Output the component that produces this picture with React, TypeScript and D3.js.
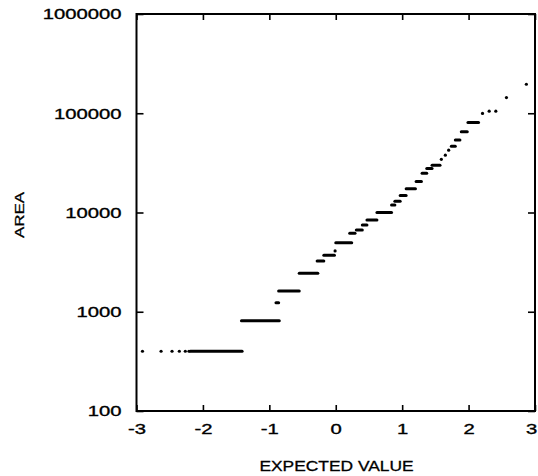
import React, { useRef, useEffect } from 'react';
import * as d3 from 'd3';

// runs of tied values in the normal probability plot: start, end (expected value), area
const runStart = [-2.91, -2.63, -2.465, -2.355, -2.265, -2.21, -2.19, -1.42, -0.9, -0.86, -0.55, -0.28, -0.18, -0.01, 0.0, 0.21, 0.31, 0.4, 0.47, 0.62, 0.84, 0.89, 0.97, 1.06, 1.21, 1.3, 1.37, 1.45, 1.59, 1.65, 1.7, 1.74, 1.8, 1.89, 1.99, 2.21, 2.31, 2.41, 2.57, 2.87];
const runEnd = [-2.91, -2.63, -2.465, -2.355, -2.265, -2.21, -1.41, -0.85, -0.86, -0.55, -0.27, -0.18, -0.02, -0.01, 0.24, 0.29, 0.4, 0.47, 0.62, 0.84, 0.89, 0.97, 1.06, 1.2, 1.29, 1.37, 1.45, 1.57, 1.59, 1.65, 1.7, 1.8, 1.87, 1.98, 2.15, 2.21, 2.31, 2.41, 2.57, 2.87];
const runArea = [400, 400, 400, 400, 400, 400, 400, 810, 1230, 1620, 2450, 3250, 3700, 4100, 4950, 6170, 6650, 7470, 8390, 10000, 11900, 13000, 14800, 17300, 20500, 24800, 27800, 30000, 34300, 37800, 42500, 46600, 53700, 65000, 80700, 99500, 105000, 105000, 144000, 196000];

const xTicks = [-3, -2, -1, 0, 1, 2, 3];
const yTicks = [100, 1000, 10000, 100000, 1000000];

const App = () => {
  const svgRef = useRef<SVGSVGElement>(null);

  useEffect(() => {
    const svg = d3.select(svgRef.current);
    svg.selectAll('*').remove();

    const left = 136.5, right = 535, top = 14, bottom = 411;
    const stretch = 1.35;
    const font = '"Liberation Sans", Arial, sans-serif';

    const x = d3.scaleLinear().domain([-3, 3]).range([left, right]);
    const y = d3.scaleLog().domain([100, 1000000]).range([bottom, top]);

    const styleAxis = (g: any) => {
      g.select('.domain').remove();
      g.selectAll('line').attr('stroke', '#000').attr('stroke-width', 1.6);
      g.selectAll('text')
        .attr('font-family', font)
        .attr('font-size', 15)
        .attr('fill', '#000')
        .attr('stroke', '#000')
        .attr('stroke-width', 0.35);
    };

    svg.append('g')
      .attr('transform', `translate(0,${bottom})`)
      .call(d3.axisBottom(x).tickValues(xTicks).tickSizeInner(-6).tickSizeOuter(0).tickPadding(12).tickFormat(d => String(d)))
      .call(styleAxis)
      .call(g => g.selectAll('text')
        .attr('x', (d: any) => (d === 3 ? -4 / stretch : 0))
        .attr('transform', `scale(${stretch},1)`));

    svg.append('g')
      .attr('transform', `translate(${left},0)`)
      .call(d3.axisLeft(y).tickValues(yTicks).tickSizeInner(-7).tickSizeOuter(0).tickPadding(15).tickFormat(d => String(d)))
      .call(styleAxis)
      .call(g => g.selectAll('text').attr('x', -15 / stretch).attr('transform', `scale(${stretch},1)`));

    svg.append('g')
      .attr('transform', `translate(0,${top})`)
      .call(d3.axisTop(x).tickValues(xTicks).tickSizeInner(-6).tickSizeOuter(0).tickFormat(() => ''))
      .call(styleAxis);

    svg.append('g')
      .attr('transform', `translate(${right},0)`)
      .call(d3.axisRight(y).tickValues(yTicks).tickSizeInner(-7).tickSizeOuter(0).tickFormat(() => ''))
      .call(styleAxis);

    svg.append('rect')
      .attr('x', left).attr('y', top)
      .attr('width', right - left).attr('height', bottom - top)
      .attr('fill', 'none').attr('stroke', '#000').attr('stroke-width', 2);

    const runs = runStart.map((s, i) => ({ s, e: runEnd[i], a: runArea[i] }));

    svg.append('g').selectAll('line')
      .data(runs.filter(d => d.e > d.s))
      .join('line')
      .attr('x1', d => x(d.s)).attr('x2', d => x(d.e))
      .attr('y1', d => y(d.a)).attr('y2', d => y(d.a))
      .attr('stroke', '#000').attr('stroke-width', 3).attr('stroke-linecap', 'round');

    svg.append('g').selectAll('circle')
      .data(runs.filter(d => d.e <= d.s))
      .join('circle')
      .attr('cx', d => x(d.s)).attr('cy', d => y(d.a))
      .attr('r', 1.6).attr('fill', '#000');

    svg.append('text')
      .attr('transform', `translate(24,215) rotate(-90) scale(${stretch},1)`)
      .attr('text-anchor', 'middle')
      .attr('font-family', font).attr('font-size', 12.5)
      .attr('stroke', '#000').attr('stroke-width', 0.3)
      .text('AREA');

    svg.append('text')
      .attr('transform', `translate(336.5,471) scale(1.2,1)`)
      .attr('text-anchor', 'middle')
      .attr('font-family', font).attr('font-size', 14.5)
      .attr('stroke', '#000').attr('stroke-width', 0.3)
      .text('EXPECTED VALUE');
  }, []);

  return (
    <svg
      ref={svgRef}
      width={538}
      height={476}
      style={{ position: 'absolute', left: 0, top: 0, background: '#fff' }}
    />
  );
};

export default App;
